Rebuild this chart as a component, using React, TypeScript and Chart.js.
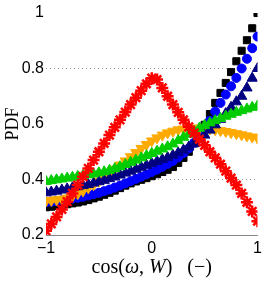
import React, { useEffect, useRef } from 'react';
import { Chart, registerables } from 'chart.js';

Chart.register(...registerables);

const X = [
  -1, -0.95, -0.9, -0.85, -0.8, -0.75, -0.7, -0.65, -0.6, -0.55, -0.5,
  -0.45, -0.4, -0.35, -0.3, -0.25, -0.2, -0.15, -0.1, -0.05, 0,
  0.05, 0.1, 0.15, 0.2, 0.25, 0.3, 0.35, 0.4, 0.45, 0.5,
  0.55, 0.6, 0.65, 0.7, 0.75, 0.8, 0.85, 0.9, 0.95, 1,
];

const BLACK = [
  0.300, 0.302, 0.305, 0.308, 0.311, 0.314, 0.317, 0.321, 0.326, 0.332, 0.338,
  0.345, 0.352, 0.360, 0.369, 0.378, 0.386, 0.393, 0.399, 0.405, 0.412,
  0.419, 0.427, 0.435, 0.445, 0.460, 0.478, 0.500, 0.530, 0.562, 0.597,
  0.636, 0.676, 0.712, 0.748, 0.787, 0.826, 0.864, 0.902, 0.945, 1.000,
];

const BLUE = [
  0.318, 0.320, 0.322, 0.325, 0.328, 0.331, 0.334, 0.338, 0.342, 0.347, 0.352,
  0.358, 0.364, 0.371, 0.378, 0.386, 0.394, 0.402, 0.410, 0.418, 0.427,
  0.436, 0.446, 0.456, 0.467, 0.480, 0.495, 0.512, 0.532, 0.555, 0.582,
  0.612, 0.645, 0.676, 0.706, 0.736, 0.766, 0.800, 0.835, 0.873, 0.915,
];

const NAVY = [
  0.352, 0.355, 0.358, 0.362, 0.366, 0.370, 0.374, 0.378, 0.382, 0.387, 0.392,
  0.397, 0.403, 0.409, 0.416, 0.423, 0.430, 0.437, 0.444, 0.451, 0.458,
  0.465, 0.472, 0.479, 0.487, 0.496, 0.506, 0.517, 0.529, 0.544, 0.560,
  0.578, 0.597, 0.617, 0.638, 0.660, 0.680, 0.700, 0.730, 0.765, 0.800,
];

const GREEN = [
  0.393, 0.396, 0.399, 0.402, 0.405, 0.408, 0.411, 0.414, 0.417, 0.420, 0.424,
  0.428, 0.433, 0.439, 0.446, 0.454, 0.462, 0.470, 0.478, 0.486, 0.494,
  0.502, 0.510, 0.518, 0.528, 0.540, 0.552, 0.563, 0.574, 0.585, 0.595,
  0.604, 0.612, 0.620, 0.628, 0.635, 0.642, 0.648, 0.654, 0.660, 0.665,
];

const ORANGE = [
  0.323, 0.325, 0.327, 0.329, 0.333, 0.340, 0.349, 0.359, 0.370, 0.381, 0.394,
  0.408, 0.422, 0.437, 0.452, 0.467, 0.482, 0.497, 0.512, 0.526, 0.539,
  0.550, 0.560, 0.568, 0.574, 0.579, 0.582, 0.584, 0.585, 0.585, 0.584,
  0.582, 0.579, 0.576, 0.573, 0.569, 0.565, 0.561, 0.557, 0.553, 0.549,
];

const RED = [
  0.215, 0.240, 0.265, 0.292, 0.320, 0.350, 0.380, 0.410, 0.440, 0.470, 0.500,
  0.530, 0.560, 0.588, 0.615, 0.643, 0.670, 0.695, 0.720, 0.745, 0.765,
  0.760, 0.730, 0.700, 0.670, 0.642, 0.615, 0.590, 0.567, 0.545, 0.523,
  0.500, 0.478, 0.455, 0.430, 0.405, 0.380, 0.350, 0.318, 0.285, 0.250,
];

const X_TICKS = [-1, 0, 1];
const X_TICK_LABELS = ['−1', '0', '1'];
const Y_TICKS = [0.2, 0.4, 0.6, 0.8, 1];
const Y_TICK_LABELS = ['0.2', '0.4', '0.6', '0.8', '1'];
const Y_GRID = [0.4, 0.8];
const Y_TITLE = 'PDF';
const X_TITLE_PARTS = [
  { text: 'cos(', italic: false },
  { text: 'ω', italic: true },
  { text: ', ', italic: false },
  { text: 'W', italic: true },
  { text: ')', italic: false },
  { text: '   ', italic: false },
  { text: '(−)', italic: false },
];

const SERIES = [
  { data: RED, color: '#ff0000', style: 'star', radius: 6, rotation: 0 },
  { data: GREEN, color: '#00cc00', style: 'triangle', radius: 6, rotation: 0 },
  { data: NAVY, color: '#000080', style: 'triangle', radius: 6, rotation: 0 },
  { data: ORANGE, color: '#ffaa00', style: 'triangle', radius: 6, rotation: 180 },
  { data: BLUE, color: '#0000ff', style: 'circle', radius: 4.5, rotation: 0 },
  { data: BLACK, color: '#000000', style: 'rect', radius: 5, rotation: 0 },
];

const xTitlePlugin = {
  id: 'xTitle',
  afterDraw(chart: any) {
    const { ctx, chartArea } = chart;
    const fontFor = (it: boolean) => `${it ? 'italic ' : ''}20px "Liberation Serif", serif`;
    ctx.save();
    let total = 0;
    const widths = X_TITLE_PARTS.map((p) => {
      ctx.font = fontFor(p.italic);
      const w = ctx.measureText(p.text).width;
      total += w;
      return w;
    });
    let x = (chartArea.left + chartArea.right) / 2 - total / 2;
    ctx.fillStyle = '#000';
    ctx.textBaseline = 'alphabetic';
    ctx.textAlign = 'left';
    X_TITLE_PARTS.forEach((p, i) => {
      ctx.font = fontFor(p.italic);
      ctx.fillText(p.text, x, 273);
      x += widths[i];
    });
    ctx.restore();
  },
};

export default function App() {
  const ref = useRef<HTMLCanvasElement>(null);
  useEffect(() => {
    if (!ref.current) return;
    const chart = new Chart(ref.current, {
      type: 'scatter',
      data: {
        datasets: SERIES.map((s) => ({
          data: X.map((x, i) => ({ x, y: s.data[i] })),
          backgroundColor: s.color,
          borderColor: s.color,
          borderWidth: s.style === 'star' ? 2.5 : 1,
          pointStyle: s.style as any,
          pointRadius: s.radius,
          pointRotation: s.rotation,
          showLine: false,
        })),
      },
      options: {
        animation: false,
        responsive: true,
        maintainAspectRatio: false,
        layout: { padding: { top: 13, right: 7, left: 0, bottom: 0 } },
        plugins: { legend: { display: false }, tooltip: { enabled: false } },
        scales: {
          x: {
            type: 'linear',
            min: -1,
            max: 1,
            afterBuildTicks: (s: any) => {
              s.ticks = X_TICKS.map((v) => ({ value: v }));
            },
            afterFit: (s: any) => {
              s.height = 46;
            },
            ticks: {
              callback: (v: any) => X_TICK_LABELS[X_TICKS.indexOf(Number(v))] ?? '',
              font: { family: '"Liberation Sans", Arial', size: 16 },
              color: '#000',
              padding: 4,
              maxRotation: 0,
              autoSkip: false,
            },
            grid: { display: false, drawTicks: false },
            border: { display: true, color: '#888', width: 1 },
          },
          y: {
            type: 'linear',
            min: 0.2,
            max: 1,
            afterBuildTicks: (s: any) => {
              s.ticks = Y_TICKS.map((v) => ({ value: v }));
            },
            afterFit: (s: any) => {
              s.width = 46;
            },
            ticks: {
              callback: (v: any) => {
                const i = Y_TICKS.findIndex((t) => Math.abs(t - Number(v)) < 1e-6);
                return i >= 0 ? Y_TICK_LABELS[i] : '';
              },
              font: { family: '"Liberation Sans", Arial', size: 16 },
              color: '#000',
              padding: 2,
              autoSkip: false,
            },
            grid: {
              drawTicks: false,
              lineWidth: 1,
              color: (c: any) =>
                Y_GRID.some((g) => Math.abs(g - c.tick?.value) < 1e-6) ? '#999' : 'rgba(0,0,0,0)',
            },
            border: { display: false, dash: [1, 3] },
            title: {
              display: true,
              text: Y_TITLE,
              font: { family: '"Liberation Serif", serif', size: 18 },
              color: '#000',
              padding: { top: 2, bottom: 0 },
            },
          },
        },
      },
      plugins: [xTitlePlugin],
    });
    return () => chart.destroy();
  }, []);
  return (
    <div style={{ position: 'absolute', left: 0, top: 0, width: 266, height: 281 }}>
      <canvas ref={ref} />
    </div>
  );
}
